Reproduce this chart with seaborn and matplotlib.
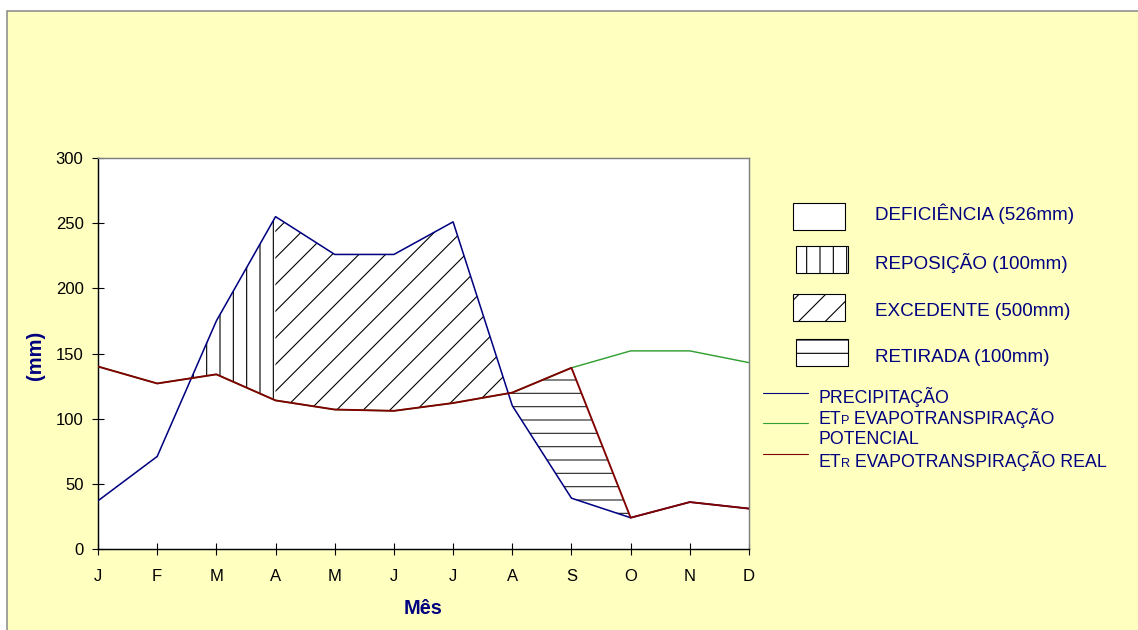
import numpy as np
import pandas as pd
import seaborn as sns
import matplotlib
matplotlib.use("Agg")
import matplotlib.pyplot as plt
from matplotlib.patches import Rectangle
from matplotlib.lines import Line2D

# ---------------- data ----------------
months = ["J", "F", "M", "A", "M", "J", "J", "A", "S", "O", "N", "D"]
precipitacao = [37, 71, 175, 255, 226, 226, 251, 110, 39, 24, 36, 31]
etp = [140, 127, 134, 114, 107, 106, 112, 120, 139, 152, 152, 143]
etr = [140, 127, 134, 114, 107, 106, 112, 120, 139, 24, 36, 31]
yticks = [0, 50, 100, 150, 200, 250, 300]
legend_areas = ["DEFICIÊNCIA (526mm)", "REPOSIÇÃO (100mm)",
                "EXCEDENTE (500mm)", "RETIRADA (100mm)"]

# ---------------- style ----------------
W, H, DPI = 1138, 630, 80
sns.set_style("white")
plt.rcParams["font.family"] = ["Liberation Sans", "DejaVu Sans"]
plt.rcParams["hatch.linewidth"] = 1.0
plt.rcParams["hatch.color"] = "black"

NAVY = "#000080"
GREEN = "#33a033"
DARKRED = "#800000"
YELLOW = "#FFFFC0"


def fx(x):
    return x / W


def fy(y):
    return 1 - y / H


fig = plt.figure(figsize=(W / DPI, H / DPI), dpi=DPI, facecolor="white")
# chart frame (screenshot crop)
fig.add_artist(Rectangle((fx(6.5), fy(632)), fx(1140) - fx(6.5), fy(10.5) - fy(632),
                         transform=fig.transFigure, facecolor=YELLOW,
                         edgecolor="#8a8a8a", linewidth=1.4, zorder=-5))

L, R, T, B = 98, 749, 158, 549
ax = fig.add_axes([fx(L), fy(B), fx(R) - fx(L), fy(T) - fy(B)])
ax.set_facecolor("white")

x = np.arange(len(months))
df = pd.DataFrame({"idx": x, "P": precipitacao, "ETP": etp, "ETR": etr})

# fine grid for the hatched water-balance areas
xs = np.linspace(0, len(months) - 1, 2201)
p_i = np.interp(xs, x, precipitacao)
etp_i = np.interp(xs, x, etp)
etr_i = np.interp(xs, x, etr)
a_idx, s_idx = 3, 8

# deficiency (white, no hatch)
ax.fill_between(xs, etp_i, etr_i, where=etp_i > etr_i, interpolate=True,
                facecolor="white", linewidth=0, zorder=1)
# reposição: P > ETR before April
ax.fill_between(xs, p_i, etr_i, where=(p_i >= etr_i) & (xs >= 1) & (xs <= a_idx),
                interpolate=True, facecolor="none", edgecolor="black",
                hatch="|", linewidth=0, zorder=1)
# excedente: P > ETR from April on
ax.fill_between(xs, p_i, etr_i, where=(p_i >= etr_i) & (xs >= a_idx) & (xs <= s_idx),
                interpolate=True, facecolor="none", edgecolor="black",
                hatch="/", linewidth=0, zorder=1)
# retirada: ETR > P in the dry season
ax.fill_between(xs, etr_i, p_i, where=(etr_i >= p_i) & (xs >= 6) & (xs <= 9.5),
                interpolate=True, facecolor="none", edgecolor="#222222",
                hatch="-", linewidth=0, zorder=1)

sns.lineplot(data=df, x="idx", y="ETP", ax=ax, color=GREEN, linewidth=1.3, zorder=3)
sns.lineplot(data=df, x="idx", y="P", ax=ax, color=NAVY, linewidth=1.4, zorder=4)
sns.lineplot(data=df, x="idx", y="ETR", ax=ax, color=DARKRED, linewidth=1.7, zorder=5)

ax.set_xlim(0, len(months) - 1)
ax.set_ylim(0, 300)
ax.set_xticks(x)
ax.set_xticklabels(months)
ax.set_yticks(yticks)
ax.tick_params(axis="both", direction="inout", length=10, width=1.0,
               color="black", labelcolor="black", labelsize=15)
ax.tick_params(axis="y", pad=8, left=True)
ax.tick_params(axis="x", pad=13, bottom=True)

for side in ["left", "bottom"]:
    ax.spines[side].set_color("black")
    ax.spines[side].set_linewidth(1.3)
for side in ["top", "right"]:
    ax.spines[side].set_visible(True)
    ax.spines[side].set_color("#808080")
    ax.spines[side].set_linewidth(1.3)

ax.set_xlabel("Mês", color=NAVY, fontsize=18, fontweight="bold")
ax.set_ylabel("(mm)", color=NAVY, fontsize=18, fontweight="bold")
ax.xaxis.set_label_coords(0.5, (B - 608) / (B - T))
ax.xaxis.label.set_va("center")
ax.yaxis.set_label_coords((35 - L) / (R - L), (B - 355) / (B - T))
ax.yaxis.label.set_va("center")

# ---------------- legend (areas) ----------------
boxes = [(793, 203, None), (796, 246, "|"), (793, 294, "/"), (796, 339, "-")]
text_y = [214, 263, 311, 358]
for (bx, by, hatch), ty, lab in zip(boxes, text_y, legend_areas):
    fig.add_artist(Rectangle((fx(bx), fy(by + 27)), fx(52), 27 / H,
                             transform=fig.transFigure, facecolor="white",
                             edgecolor="black", linewidth=1.0,
                             hatch=hatch, zorder=6))
    fig.text(fx(875), fy(ty), lab, color=NAVY, fontsize=17, va="center", ha="left")

# ---------------- legend (lines) ----------------
line_specs = [(NAVY, 393), (GREEN, 423), (DARKRED, 454)]
for col, ly in line_specs:
    fig.add_artist(Line2D([fx(763), fx(808)], [fy(ly), fy(ly)],
                          transform=fig.transFigure, color=col, linewidth=1.0))

fig.text(fx(818), fy(397), "PRECIPITAÇÃO", color=NAVY, fontsize=16, va="center")
fig.text(fx(818), fy(440), "POTENCIAL", color=NAVY, fontsize=16, va="center")

renderer = fig.canvas.get_renderer()


def chain(parts, x0, y0):
    xcur = x0
    for s, size in parts:
        t = fig.text(fx(xcur), fy(y0), s, color=NAVY, fontsize=size, va="baseline")
        bb = t.get_window_extent(renderer)
        xcur += bb.width


chain([("ET", 16), ("P", 11.5), (" EVAPOTRANSPIRAÇÃO", 16)], 818, 424)
chain([("ET", 16), ("R", 11.5), (" EVAPOTRANSPIRAÇÃO REAL", 16)], 818, 467)

fig.savefig("out.png", dpi=DPI, facecolor="white")
